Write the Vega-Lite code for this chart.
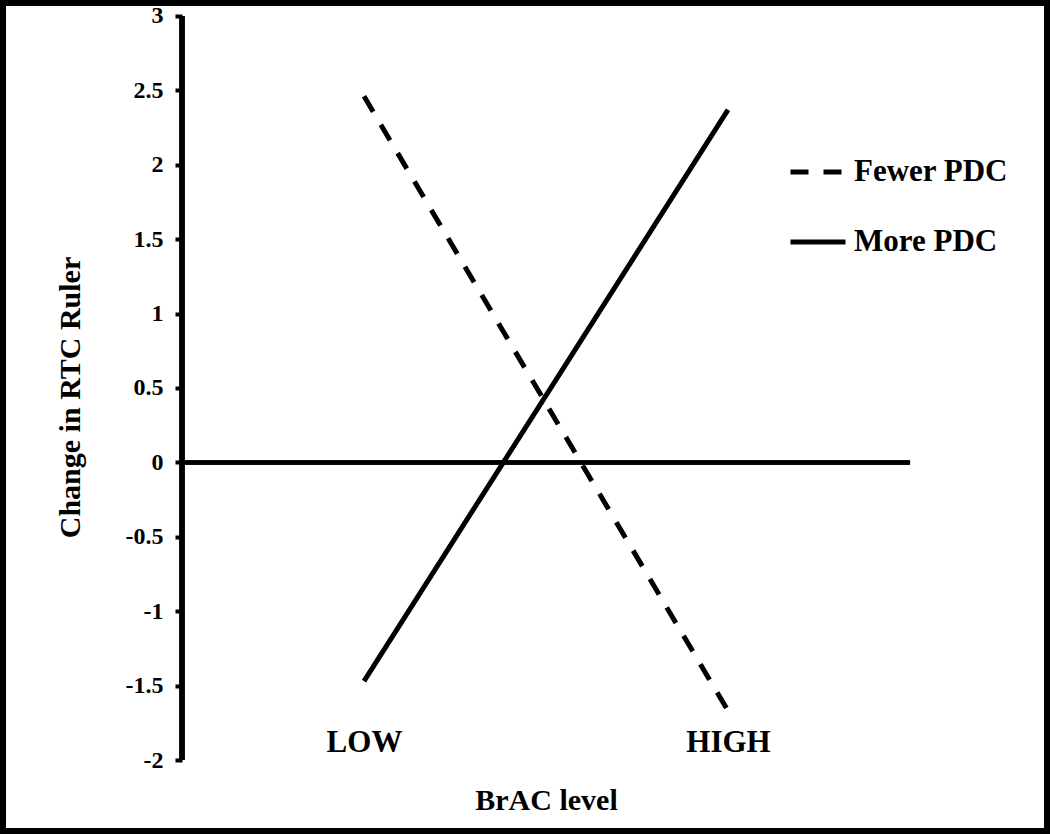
{
  "$schema": "https://vega.github.io/schema/vega-lite/v6.json",
  "width": 1050,
  "height": 834,
  "padding": 0,
  "autosize": {"type": "none"},
  "background": "white",
  "config": {
    "font": "Liberation Serif",
    "view": {"stroke": "black", "strokeWidth": 12},
    "axis": {"grid": false}
  },
  "data": {
    "values": [
      {"level": 1, "change": 2.46, "group": "Fewer PDC"},
      {"level": 3, "change": -1.67, "group": "Fewer PDC"},
      {"level": 1, "change": -1.47, "group": "More PDC"},
      {"level": 3, "change": 2.37, "group": "More PDC"}
    ]
  },
  "layer": [
    {
      "mark": {"type": "rule", "color": "black", "strokeWidth": 4},
      "encoding": {
        "x": {"datum": 0, "type": "quantitative"},
        "x2": {"datum": 4},
        "y": {"datum": 0, "type": "quantitative"}
      }
    },
    {
      "mark": {"type": "rule", "color": "black", "strokeWidth": 5},
      "encoding": {
        "x": {"datum": 0, "type": "quantitative"},
        "y": {"datum": -2, "type": "quantitative"},
        "y2": {"datum": 3}
      }
    },
    {
      "mark": {"type": "line", "color": "black", "strokeWidth": 5, "strokeCap": "butt"},
      "encoding": {
        "x": {
          "field": "level",
          "type": "quantitative",
          "scale": {"domain": [-1, 4.769], "nice": false, "zero": false},
          "axis": {
            "orient": "bottom",
            "offset": -92,
            "values": [1, 3],
            "labelExpr": "datum.value == 1 ? 'LOW' : 'HIGH'",
            "domain": false,
            "ticks": false,
            "labelPadding": 0,
            "labelBaseline": "middle",
            "labelFontSize": 31,
            "labelFontWeight": "bold",
            "labelColor": "black",
            "title": "BrAC level",
            "titleFontSize": 30,
            "titleFontWeight": "bold",
            "titleColor": "black",
            "titleX": 546,
            "titleY": 58,
            "titleBaseline": "middle",
            "titleAlign": "center"
          }
        },
        "y": {
          "field": "change",
          "type": "quantitative",
          "scale": {"domain": [-2.4973, 3.1075], "nice": false, "zero": false},
          "axis": {
            "orient": "left",
            "offset": -182,
            "values": [-2, -1.5, -1, -0.5, 0, 0.5, 1, 1.5, 2, 2.5, 3],
            "labelExpr": "'' + datum.value",
            "domain": false,
            "tickSize": 7,
            "tickWidth": 4,
            "tickColor": "black",
            "labelPadding": 12,
            "labelFontSize": 24,
            "labelFontWeight": "bold",
            "labelColor": "black",
            "title": "Change in RTC Ruler",
            "titleFontSize": 30,
            "titleFontWeight": "bold",
            "titleColor": "black",
            "titleAngle": -90,
            "titleX": -112,
            "titleY": 397,
            "titleAlign": "center",
            "titleBaseline": "middle"
          }
        },
        "detail": {"field": "group"},
        "strokeDash": {
          "field": "group",
          "type": "nominal",
          "scale": {"domain": ["Fewer PDC", "More PDC"], "range": [[18, 15], [1, 0]]},
          "legend": {
            "title": null,
            "orient": "none",
            "legendX": 788,
            "legendY": 142,
            "symbolType": "stroke",
            "symbolSize": 3025,
            "symbolStrokeWidth": 5,
            "symbolStrokeColor": "black",
            "labelFontSize": 31,
            "labelFontWeight": "bold",
            "labelColor": "black",
            "labelOffset": 6,
            "rowPadding": 25,
            "padding": 0
          }
        }
      }
    }
  ]
}
